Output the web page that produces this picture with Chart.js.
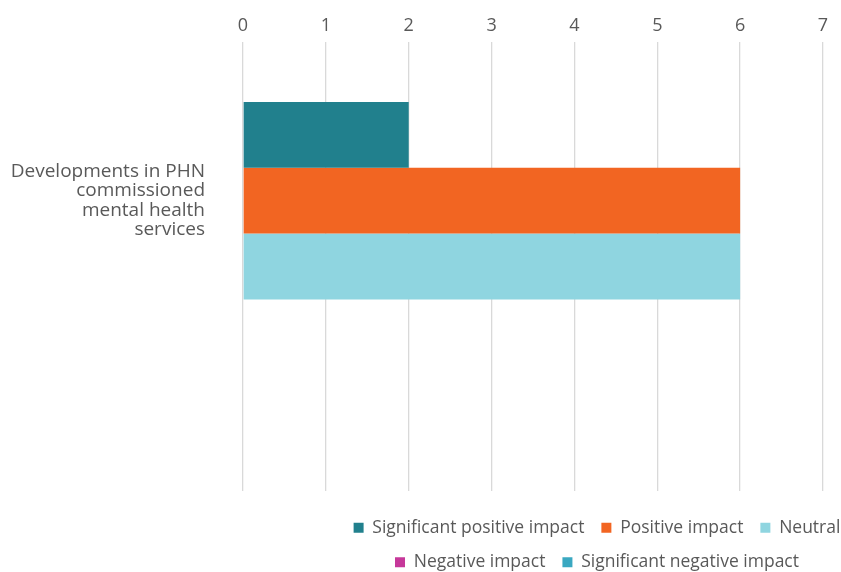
<!DOCTYPE html>
<html>
<head>
<meta charset="utf-8">
<title>Developments in PHN commissioned mental health services</title>
<script src="https://cdn.jsdelivr.net/npm/chart.js@4.4.1/dist/chart.umd.min.js"></script>
<style>
  html, body { margin: 0; padding: 0; background: #ffffff; }
  #chartCanvas { display: block; }
</style>
</head>
<body>
<canvas id="chartCanvas" width="841" height="572"></canvas>
<script>
const categories = [['Developments in PHN', 'commissioned', 'mental health', 'services']];
const seriesNames = ['Significant positive impact', 'Positive impact', 'Neutral', 'Negative impact', 'Significant negative impact'];
const seriesColors = ['#21808d', '#f26522', '#8fd5e0', '#c6389a', '#3aa8c1'];
const significantPositive = [2];
const positive = [6];
const neutral = [6];
const negative = [0];
const significantNegative = [0];
const xTicks = [0, 1, 2, 3, 4, 5, 6, 7];

const seriesValues = [significantPositive, positive, neutral, negative, significantNegative];
const textColor = '#595959';
const fontFamily = "'Open Sans', 'Liberation Sans', sans-serif";

// Legend wraps after three items; rows are centred around x = 597
const legendPlacement = {
    id: 'legendPlacement',
    beforeLayout(chart) {
        const lg = chart.legend;
        if (lg && !lg._rowsPatched) {
            const fitRows = lg._fitRows;
            lg._fitRows = function (...args) {
                const full = this.maxWidth;
                this.maxWidth = 600;
                const h = fitRows.apply(this, args);
                this.maxWidth = full;
                return h;
            };
            lg._rowsPatched = true;
        }
    },
    afterLayout(chart) {
        const lg = chart.legend;
        if (!lg) return;
        // wide box so the draw pass does not wrap again, same centre
        lg.left = 253;
        lg.right = 941;
        lg.top = 502;
        lg.bottom = lg.top + lg.height;
    }
};

const ctx = document.getElementById('chartCanvas').getContext('2d');

window.myChart = new Chart(ctx, {
    type: 'bar',
    data: {
        labels: categories,
        datasets: seriesNames.map((name, i) => ({
            label: name,
            data: seriesValues[i],
            backgroundColor: seriesColors[i],
            borderWidth: 0,
            categoryPercentage: 0.733,
            barPercentage: 1
        }))
    },
    options: {
        indexAxis: 'y',
        responsive: false,
        animation: false,
        layout: { padding: { top: 0, left: 0, right: 18, bottom: 2 } },
        scales: {
            x: {
                position: 'top',
                min: 0,
                max: 7,
                afterBuildTicks: scale => { scale.ticks = xTicks.map(v => ({ value: v })); },
                afterFit: scale => {
                    scale.height = 42;
                    scale.paddingLeft = 0;
                    scale.paddingRight = 0;
                },
                ticks: {
                    color: textColor,
                    padding: 5,
                    font: { family: fontFamily, size: 18 }
                },
                grid: { color: '#d9d9d9', lineWidth: 1.3, drawTicks: false },
                border: { display: false }
            },
            y: {
                afterFit: scale => {
                    scale.width = 243;
                    scale.paddingTop = 0;
                    scale.paddingBottom = 0;
                },
                ticks: {
                    color: textColor,
                    padding: 38,
                    labelOffset: -66,
                    font: { family: fontFamily, size: 19, lineHeight: 1.03 }
                },
                grid: { display: false, drawTicks: false },
                border: { display: false }
            }
        },
        plugins: {
            legend: {
                position: 'bottom',
                labels: {
                    boxWidth: 10,
                    boxHeight: 10,
                    padding: 17,
                    color: textColor,
                    font: { family: fontFamily, size: 17.5 }
                }
            },
            tooltip: { enabled: false }
        }
    },
    plugins: [legendPlacement]
});
</script>
</body>
</html>
